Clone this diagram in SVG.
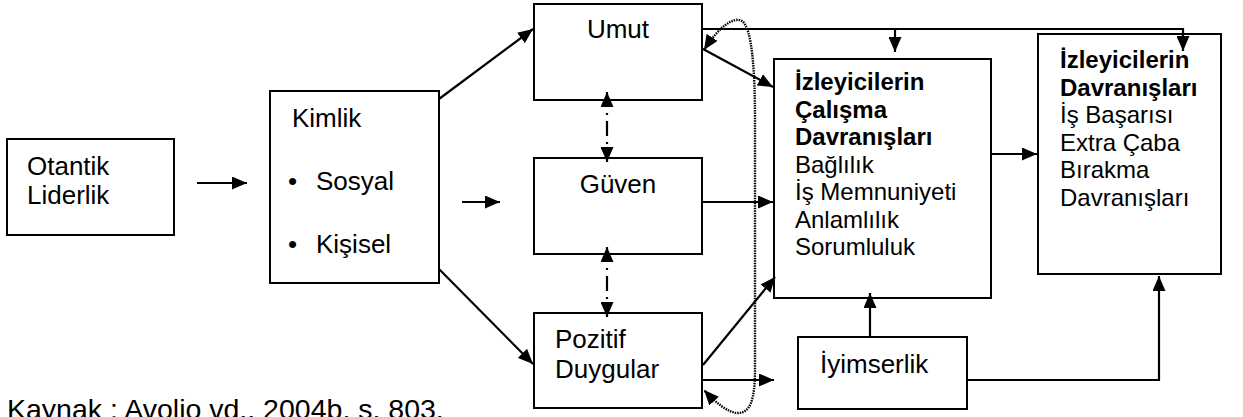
<svg xmlns="http://www.w3.org/2000/svg" width="1243" height="417" viewBox="0 0 1243 417">
<style>
.box{fill:#fff;stroke:#000;stroke-width:2}
.t{font-family:"Liberation Sans",Arial,sans-serif;font-size:26px;fill:#000}
.s{font-size:24px}
.b{font-weight:bold}
.ln{fill:none;stroke:#000;stroke-width:2.2}
.dd{stroke-dasharray:15,6,2,6}
.dot{stroke-dasharray:1.5,1;stroke-width:2.4}
</style>
<defs>
<marker id="ah" viewBox="0 0 15 13" refX="15" refY="6.5" markerWidth="15" markerHeight="13" markerUnits="userSpaceOnUse" orient="auto-start-reverse">
<path d="M0,0 L15,6.5 L0,13 Z" fill="#000"/>
</marker>
</defs>
<rect width="1243" height="417" fill="#fff"/>
<g id="otantik">
<rect class="box" x="7" y="139" width="167" height="96"/>
<text class="t" x="27" y="175">Otantik</text>
<text class="t" x="27" y="204">Liderlik</text>
</g>
<g id="kimlik">
<rect class="box" x="270" y="91" width="169" height="192"/>
<text class="t" x="292" y="127">Kimlik</text>
<text class="t" x="288" y="190">•</text>
<text class="t" x="316" y="190">Sosyal</text>
<text class="t" x="288" y="253">•</text>
<text class="t" x="316" y="253">Kişisel</text>
</g>
<g id="umut">
<rect class="box" x="534" y="4" width="168" height="96"/>
<text class="t" x="618" y="38" text-anchor="middle">Umut</text>
</g>
<g id="guven">
<rect class="box" x="534" y="158" width="168" height="96"/>
<text class="t" x="618" y="193" text-anchor="middle">Güven</text>
</g>
<g id="pozitif">
<rect class="box" x="534" y="313" width="168" height="95"/>
<text class="t" x="555" y="348">Pozitif</text>
<text class="t" x="555" y="378">Duygular</text>
</g>
<g id="calisma">
<rect class="box" x="774" y="59" width="217" height="239"/>
<text class="t s b" x="795" y="90">İzleyicilerin</text>
<text class="t s b" x="795" y="117.5">Çalışma</text>
<text class="t s b" x="795" y="145">Davranışları</text>
<text class="t s" x="795" y="172.5">Bağlılık</text>
<text class="t s" x="795" y="200">İş Memnuniyeti</text>
<text class="t s" x="795" y="227.5">Anlamlılık</text>
<text class="t s" x="795" y="255">Sorumluluk</text>
</g>
<g id="davranislar">
<rect class="box" x="1038" y="34" width="183" height="240"/>
<text class="t s b" x="1060" y="68">İzleyicilerin</text>
<text class="t s b" x="1060" y="95.5">Davranışları</text>
<text class="t s" x="1060" y="123">İş Başarısı</text>
<text class="t s" x="1060" y="150.5">Extra Çaba</text>
<text class="t s" x="1060" y="178">Bırakma</text>
<text class="t s" x="1060" y="205.5">Davranışları</text>
</g>
<g id="iyimserlik">
<rect class="box" x="798" y="337" width="169" height="72"/>
<text class="t" x="820" y="373">İyimserlik</text>
</g>
<g id="connectors">
<path class="ln" d="M197,183 H247" marker-end="url(#ah)"/>
<path class="ln" d="M439,99 L533,29" marker-end="url(#ah)"/>
<path class="ln" d="M462,202 H500" marker-end="url(#ah)"/>
<path class="ln" d="M439,269 L533,364" marker-end="url(#ah)"/>
<path class="ln dd" d="M607,92 V162" marker-start="url(#ah)" marker-end="url(#ah)"/>
<path class="ln dd" d="M607,247 V317" marker-start="url(#ah)" marker-end="url(#ah)"/>
<path class="ln" d="M703,49 L773,87" marker-end="url(#ah)"/>
<path class="ln" d="M703,202 H773" marker-end="url(#ah)"/>
<path class="ln" d="M703,365 L775,277" marker-end="url(#ah)"/>
<path class="ln" d="M703,380 H774" marker-end="url(#ah)"/>
<path class="ln" d="M870,337 V293" marker-end="url(#ah)"/>
<path class="ln" d="M991,154 H1037" marker-end="url(#ah)"/>
<path class="ln" d="M967,380 H1159 V276" marker-end="url(#ah)"/>
<path class="ln" d="M702,29 H1183 V51" marker-end="url(#ah)"/>
<path class="ln" d="M895,29 V52" marker-end="url(#ah)"/>
<path class="ln dot" d="M704,50 C718,28 733,16 742,21 C752,28 755,70 755,120 L755,370 C755,400 750,413 738,413 C728,413 715,402 704,390" marker-start="url(#ah)" marker-end="url(#ah)"/>
</g>
<text class="t" x="7" y="419" style="font-size:28.5px">Kaynak : Avolio vd., 2004b, s. 803.</text>
</svg>
